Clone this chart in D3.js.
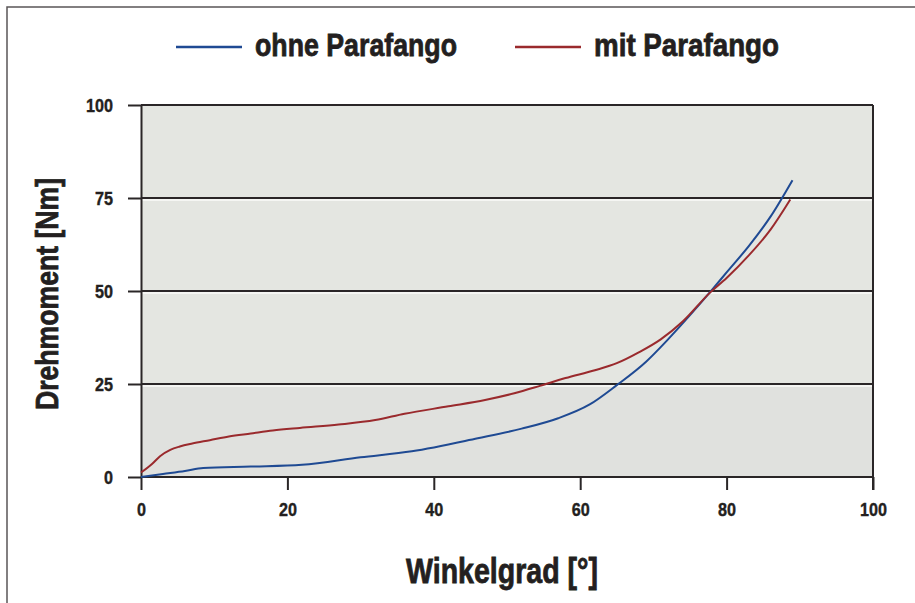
<!DOCTYPE html>
<html>
<head>
<meta charset="utf-8">
<script src="https://cdn.jsdelivr.net/npm/d3@7"></script>
<style>
  body { margin: 0; background: #fff; }
  text { font-family: "Liberation Sans", Arial, sans-serif; font-weight: bold; fill: #231f20; }
  .heavy { stroke: #231f20; stroke-width: 0.8px; }
</style>
</head>
<body>
<div id="chart"></div>
<script>
// data: [Winkelgrad, Drehmoment]
const ohneParafango = [
    [0, 0], [3, 0.8], [6, 1.6], [8.5, 2.4], [15, 2.8], [22, 3.3], [30, 5.3], [37, 6.9],
    [46, 10.4], [52, 13], [57, 15.8], [61.3, 19.5], [65, 24.7], [69, 31], [72, 37],
    [75, 43.5], [78, 50.3], [80, 55], [83, 62], [86, 70], [89, 79.8]
];
const mitParafango = [
    [0, 1.2], [1.5, 3.5], [2.6, 5.6], [4, 7.3], [5.3, 8.2], [7, 9], [9.4, 9.9], [12, 10.9],
    [15, 11.7], [18, 12.5], [21.7, 13.2], [27, 14.1], [32, 15.3], [36, 17], [42, 19],
    [47, 20.7], [51, 22.5], [54.5, 24.5], [58, 26.6], [62, 28.7], [65, 30.6], [68, 33.5],
    [71, 37], [74, 41.8], [77.7, 49.5], [80, 53.5], [83, 59.5], [86, 66.5], [88.7, 74.6]
];
const xTicks = [0, 20, 40, 60, 80, 100];
const yTicks = [0, 25, 50, 75, 100];
const seriesNames = ['ohne Parafango', 'mit Parafango'];
const seriesColors = ['#1f4a93', '#9a2a2d'];

const W = 915, H = 603;
const margin = { top: 105, right: 42, bottom: 126, left: 141 };
const width = W - margin.left - margin.right;
const height = H - margin.top - margin.bottom;

// condensed look: squeeze glyphs to the width the picture shows
const digitW = 9;
const squeeze = (sel, w) => sel.attr('textLength', w).attr('lengthAdjust', 'spacingAndGlyphs');

const svg = d3.select('#chart')
    .append('svg')
    .attr('width', W)
    .attr('height', H);

// outer frame (top + left visible only)
svg.append('path')
    .attr('d', `M7,${H} L7,7 L${W},7`)
    .attr('fill', 'none')
    .attr('stroke', '#5a5657')
    .attr('stroke-width', 1.5);

const g = svg.append('g')
    .attr('transform', `translate(${margin.left},${margin.top})`);

const x = d3.scaleLinear().domain([0, 100]).range([0, width]);
const y = d3.scaleLinear().domain([0, 100]).range([height, 0]);

// plot background
g.append('rect')
    .attr('width', width)
    .attr('height', height)
    .attr('fill', '#e4e6e1');
g.append('rect')
    .attr('y', y(25))
    .attr('width', width)
    .attr('height', y(0) - y(25))
    .attr('fill', '#e0e1de');

// gridlines with a light edge under each
g.append('g')
    .selectAll('line')
    .data(yTicks.slice(1, 4))
    .join('line')
    .attr('x1', 0).attr('x2', width)
    .attr('y1', d => y(d) + 2).attr('y2', d => y(d) + 2)
    .attr('stroke', '#fbfbf8')
    .attr('stroke-width', 1.5);
g.append('g')
    .selectAll('line')
    .data(yTicks)
    .join('line')
    .attr('x1', 0).attr('x2', width)
    .attr('y1', d => y(d)).attr('y2', d => y(d))
    .attr('stroke', '#2a2627')
    .attr('stroke-width', 2);

// right border
g.append('line')
    .attr('x1', width).attr('x2', width)
    .attr('y1', 0).attr('y2', height + 13)
    .attr('stroke', '#2a2627')
    .attr('stroke-width', 2);

// y axis
const yAxis = g.append('g')
    .call(d3.axisLeft(y).tickValues(yTicks).tickSizeInner(13).tickSizeOuter(0).tickPadding(15));
yAxis.selectAll('path, line').attr('stroke', '#2a2627').attr('stroke-width', 2);
yAxis.selectAll('text')
    .style('font-size', '19px')
    .attr('fill', '#231f20')
    .attr('class', 'heavy')
    .style('stroke-width', '0.4px')
    .each(function (d) { squeeze(d3.select(this), String(d).length * digitW); });

// x axis
const xAxis = g.append('g')
    .attr('transform', `translate(0,${height})`)
    .call(d3.axisBottom(x).tickValues(xTicks).tickSizeInner(13).tickSizeOuter(0).tickPadding(13));
xAxis.select('.domain').remove();
xAxis.selectAll('line').attr('stroke', '#2a2627').attr('stroke-width', 2);
xAxis.selectAll('text')
    .style('font-size', '19px')
    .attr('fill', '#231f20')
    .attr('class', 'heavy')
    .style('stroke-width', '0.4px')
    .each(function (d) { squeeze(d3.select(this), String(d).length * digitW); });

// lines
const line = d3.line()
    .x(d => x(d[0]))
    .y(d => y(d[1]))
    .curve(d3.curveMonotoneX);

[ohneParafango, mitParafango].forEach((data, i) => {
    g.append('path')
        .datum(data)
        .attr('d', line)
        .attr('fill', 'none')
        .attr('stroke', seriesColors[i])
        .attr('stroke-width', 2);
});

// axis titles
svg.append('text')
    .attr('class', 'heavy')
    .attr('x', 502)
    .attr('y', 583)
    .attr('text-anchor', 'middle')
    .style('font-size', '35px')
    .text('Winkelgrad [°]')
    .call(squeeze, 192);

svg.append('text')
    .attr('class', 'heavy')
    .attr('transform', 'translate(58,294) rotate(-90)')
    .attr('text-anchor', 'middle')
    .style('font-size', '31px')
    .text('Drehmoment [Nm]')
    .call(squeeze, 232);

// legend
const legendX = [176, 515];
const legendTextW = [202, 185];
const legend = svg.append('g');
seriesNames.forEach((name, i) => {
    legend.append('line')
        .attr('x1', legendX[i]).attr('x2', legendX[i] + 66)
        .attr('y1', 47).attr('y2', 47)
        .attr('stroke', seriesColors[i])
        .attr('stroke-width', 2.5);
    legend.append('text')
        .attr('class', 'heavy')
        .attr('x', legendX[i] + 79)
        .attr('y', 56)
        .style('font-size', '32px')
        .text(name)
        .call(squeeze, legendTextW[i]);
});
</script>
</body>
</html>
